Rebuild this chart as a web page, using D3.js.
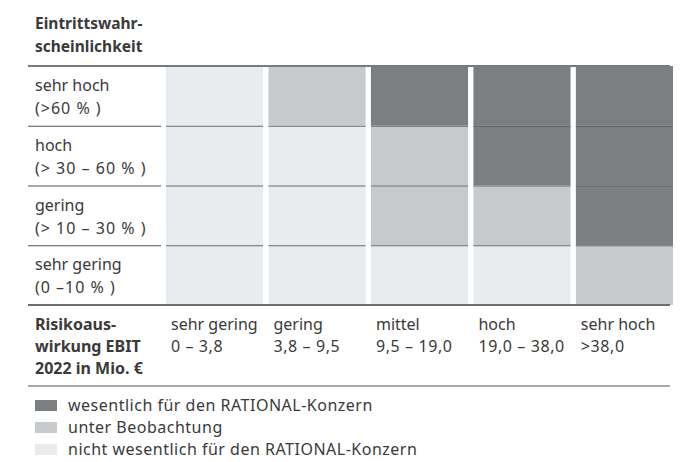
<!DOCTYPE html>
<html>
<head>
<meta charset="utf-8">
<script src="https://cdn.jsdelivr.net/npm/d3@7"></script>
<style>
  body { margin: 0; background: #fff; }
  svg text { font-family: "Noto Sans", sans-serif; fill: #3a3a3a; }
</style>
</head>
<body>
<svg id="chart"></svg>
<script>
const yTitle = ['Eintrittswahr-', 'scheinlichkeit']
const xTitle = ['Risikoaus-', 'wirkung EBIT', '2022 in Mio. €']

const rows = ['sehr hoch', 'hoch', 'gering', 'sehr gering']
const rowRanges = ['(>60 % )', '(> 30 – 60 % )', '(> 10 – 30 % )', '(0 –10 % )']

const cols = ['sehr gering', 'gering', 'mittel', 'hoch', 'sehr hoch']
const colRanges = ['0 – 3,8', '3,8 – 9,5', '9,5 – 19,0', '19,0 – 38,0', '>38,0']

// 0 = nicht wesentlich, 1 = unter Beobachtung, 2 = wesentlich
const levels = [
  [0, 1, 2, 2, 2],
  [0, 0, 1, 2, 2],
  [0, 0, 1, 1, 2],
  [0, 0, 0, 0, 1]
]

const legendLabels = ['wesentlich für den RATIONAL-Konzern', 'unter Beobachtung', 'nicht wesentlich für den RATIONAL-Konzern']
const legendLevels = [2, 1, 0]

const width = 690
const height = 462
const colors = ['#e8ecee', '#c6cacd', '#7b7f82']

const svg = d3.select('#chart')
  .attr('width', width)
  .attr('height', height)

const cells = rows.flatMap((r, i) => cols.map((c, j) => ({ row: r, col: c, level: levels[i][j] })))

const xScale = d3.scaleBand()
  .domain(cols)
  .range([166, 673])
  .paddingInner(0.052)

const yScale = d3.scaleBand()
  .domain(rows)
  .range([66, 305])

const color = d3.scaleOrdinal().domain([0, 1, 2]).range(colors)

// Y title
svg.append('text')
  .attr('font-weight', 'bold')
  .attr('font-size', '15.5px')
  .selectAll('tspan')
  .data(yTitle)
  .enter().append('tspan')
  .attr('x', 35)
  .attr('y', (d, i) => 29 + i * 23)
  .text(d => d)

// Cells
svg.selectAll('.cell')
  .data(cells)
  .enter().append('rect')
  .attr('class', 'cell')
  .attr('x', d => xScale(d.col))
  .attr('y', d => yScale(d.row))
  .attr('width', xScale.bandwidth())
  .attr('height', yScale.bandwidth())
  .attr('fill', d => color(d.level))

// Row separators (label column + each cell)
svg.selectAll('.row-line')
  .data(rows.slice(1))
  .enter().append('line')
  .attr('class', 'row-line')
  .attr('x1', 28)
  .attr('x2', 161)
  .attr('y1', d => yScale(d) + 0.5)
  .attr('y2', d => yScale(d) + 0.5)
  .attr('stroke', '#555')
  .attr('stroke-width', 1.2)

svg.selectAll('.cell-line')
  .data(cells.filter(d => d.row !== rows[0]))
  .enter().append('line')
  .attr('class', 'cell-line')
  .attr('x1', d => xScale(d.col))
  .attr('x2', d => xScale(d.col) + xScale.bandwidth())
  .attr('y1', d => yScale(d.row) + 0.5)
  .attr('y2', d => yScale(d.row) + 0.5)
  .attr('stroke', d => d.level === 2 ? '#5c6063' : '#6a6a6a')
  .attr('stroke-width', 1.2)

// Outer lines
const hLines = [
  { y: 66, w: 2, c: '#7a7a7a' },
  { y: 305, w: 2, c: '#6e6e6e' },
  { y: 386, w: 1.2, c: '#555' }
]
svg.selectAll('.h-line')
  .data(hLines)
  .enter().append('line')
  .attr('class', 'h-line')
  .attr('x1', 28)
  .attr('x2', 670)
  .attr('y1', d => d.y)
  .attr('y2', d => d.y)
  .attr('stroke', d => d.c)
  .attr('stroke-width', d => d.w)

// Row labels
const rowText = svg.selectAll('.row-label')
  .data(rows)
  .enter().append('text')
  .attr('class', 'row-label')
  .attr('font-size', '16px')
rowText.append('tspan')
  .attr('x', 35)
  .attr('y', d => yScale(d) + 25)
  .text(d => d)
rowText.append('tspan')
  .attr('x', 35)
  .attr('y', d => yScale(d) + 48)
  .attr('letter-spacing', '1px')
  .text((d, i) => rowRanges[i])

// X title
svg.append('text')
  .attr('font-weight', 'bold')
  .attr('font-size', '16px')
  .selectAll('tspan')
  .data(xTitle)
  .enter().append('tspan')
  .attr('x', 35)
  .attr('y', (d, i) => 330 + i * 22)
  .text(d => d)

// Column labels
const colText = svg.selectAll('.col-label')
  .data(cols)
  .enter().append('text')
  .attr('class', 'col-label')
  .attr('font-size', '16px')
colText.append('tspan')
  .attr('x', d => xScale(d) + 5)
  .attr('y', 330)
  .text(d => d)
colText.append('tspan')
  .attr('x', d => xScale(d) + 5)
  .attr('y', 352)
  .attr('letter-spacing', '0.6px')
  .text((d, i) => colRanges[i])

// Legend
const legendY = d3.scaleBand()
  .domain(legendLabels)
  .range([399, 465])

const legend = svg.selectAll('.legend')
  .data(legendLabels)
  .enter().append('g')
  .attr('class', 'legend')
  .attr('transform', d => `translate(35,${legendY(d)})`)

legend.append('rect')
  .attr('width', 22)
  .attr('height', 11)
  .attr('y', 1)
  .attr('fill', (d, i) => color(legendLevels[i]))

legend.append('text')
  .attr('x', 33)
  .attr('y', 12)
  .attr('font-size', '16px')
  .attr('letter-spacing', '0.5px')
  .text(d => d)
</script>
</body>
</html>
